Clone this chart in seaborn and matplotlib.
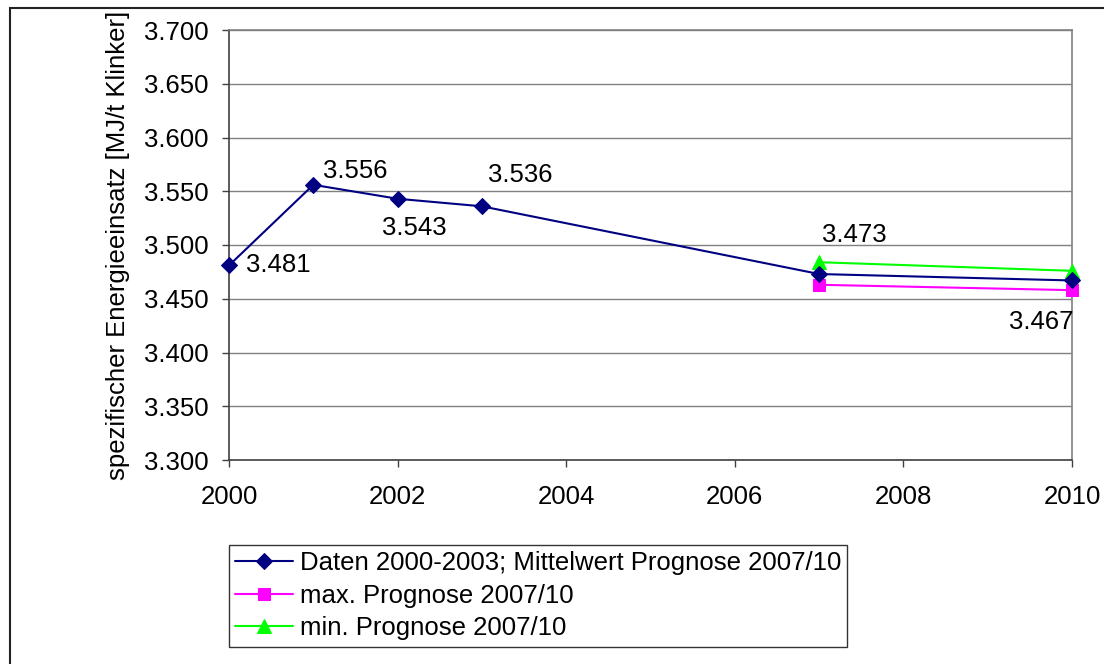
import matplotlib
matplotlib.use("Agg")
import matplotlib.pyplot as plt
import seaborn as sns
import pandas as pd
from matplotlib.patches import Rectangle

# Spezifischer Energieeinsatz Zementklinker
jahre_daten = [2000, 2001, 2002, 2003, 2007, 2010]
mittelwert = [3.481, 3.556, 3.543, 3.536, 3.473, 3.467]
jahre_prognose = [2007, 2010]
prognose_max = [3.463, 3.458]
prognose_min = [3.484, 3.476]

label_daten = "Daten 2000-2003; Mittelwert Prognose 2007/10"
label_max = "max. Prognose 2007/10"
label_min = "min. Prognose 2007/10"
y_titel = "spezifischer Energieeinsatz [MJ/t Klinker]"

x_ticks = [2000, 2002, 2004, 2006, 2008, 2010]
y_ticks = [3.300, 3.350, 3.400, 3.450, 3.500, 3.550, 3.600, 3.650, 3.700]

FS = 18.5

# label offsets (pixels) for each value label of the mean series
label_offsets = [(17, 0, "left"), (10, 14, "left"), (-16, -29, "left"),
                 (6, 31, "left"), (3, 39, "left"), (1, -42, "right")]

sns.set_theme(style="white")
plt.rcParams["font.family"] = ["Liberation Sans", "DejaVu Sans"]
plt.rcParams["font.size"] = FS
plt.rcParams["text.color"] = "black"
plt.rcParams["axes.labelcolor"] = "black"
plt.rcParams["xtick.labelcolor"] = "black"
plt.rcParams["ytick.labelcolor"] = "black"

fig = plt.figure(figsize=(11.04, 6.64), dpi=100)
fig.patch.set_facecolor("white")
ax = fig.add_axes([229 / 1104, 1 - 460 / 664, (1072 - 229) / 1104, (460 - 30) / 664])

df_daten = pd.DataFrame({"Jahr": jahre_daten, "Wert": mittelwert})
df_max = pd.DataFrame({"Jahr": jahre_prognose, "Wert": prognose_max})
df_min = pd.DataFrame({"Jahr": jahre_prognose, "Wert": prognose_min})

sns.lineplot(data=df_max, x="Jahr", y="Wert", ax=ax, color="#FF00FF", marker="s",
             markersize=8.5, markeredgecolor="#FF00FF", linewidth=1.5, label=label_max, zorder=3)
sns.lineplot(data=df_min, x="Jahr", y="Wert", ax=ax, color="#00FF00", marker="^",
             markersize=10, markeredgecolor="#00FF00", linewidth=1.5, label=label_min, zorder=3)
sns.lineplot(data=df_daten, x="Jahr", y="Wert", ax=ax, color="#000080", marker="D",
             markersize=8, markeredgecolor="#000080", linewidth=1.5, label=label_daten, zorder=4)

for (jx, wy), (dx, dy, ha) in zip(zip(jahre_daten, mittelwert), label_offsets):
    ax.annotate(f"{wy:.3f}", (jx, wy), xytext=(dx, dy), textcoords="offset pixels",
                ha=ha, va="center", fontsize=FS, color="black")

ax.set_xlim(2000, 2010)
ax.set_ylim(3.300, 3.700)
ax.set_xticks(x_ticks)
ax.set_yticks(y_ticks)
ax.set_yticklabels([f"{v:.3f}" for v in y_ticks])
ax.set_xlabel("")
ax.set_ylabel(y_titel, fontsize=FS, labelpad=10, color="black")
ax.tick_params(axis="y", direction="out", length=5, width=1, color="#404040",
               labelsize=FS, pad=10, left=True, labelcolor="black")
ax.tick_params(axis="x", direction="out", length=5, width=1, color="#404040",
               labelsize=FS, pad=13, bottom=True, labelcolor="black")
ax.yaxis.grid(True, color="#808080", linewidth=1)
ax.xaxis.grid(False)
for side in ["left", "bottom"]:
    ax.spines[side].set_color("#404040")
    ax.spines[side].set_linewidth(1.2)
for side in ["top", "right"]:
    ax.spines[side].set_color("#808080")
    ax.spines[side].set_linewidth(1.2)
for line in ax.lines:
    line.set_clip_on(False)

ax.get_legend().remove()
handles, labels = ax.get_legend_handles_labels()
order = [labels.index(label_daten), labels.index(label_max), labels.index(label_min)]
leg = fig.legend([handles[i] for i in order], [labels[i] for i in order],
                 loc="upper left", bbox_to_anchor=(229 / 1104, 1 - 545 / 664),
                 frameon=True, fancybox=False, shadow=False, fontsize=FS,
                 handlelength=2.25, handletextpad=0.25, borderpad=0.25,
                 labelspacing=0.33, borderaxespad=0, labelcolor="black")
leg.get_frame().set_edgecolor("black")
leg.get_frame().set_linewidth(1.0)

# outer chart frame
fig.patches.append(Rectangle((10 / 1104, -0.05), 1.2, 1 - 8 / 664 + 0.05,
                             transform=fig.transFigure, fill=False,
                             edgecolor="#222222", linewidth=1.5, zorder=0))

fig.savefig("out.png", dpi=100, facecolor="white")
